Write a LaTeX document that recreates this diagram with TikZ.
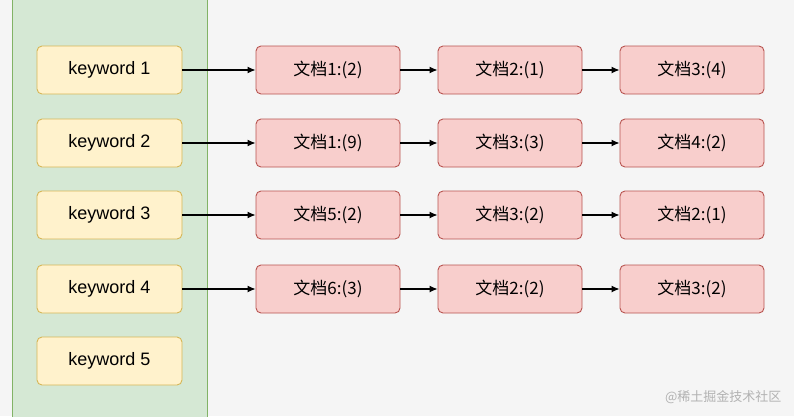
\documentclass[tikz,border=0pt]{standalone}
\usepackage{fontspec}
\setmainfont{Liberation Sans}
\newfontfamily\cjk{Noto Sans CJK SC}
\definecolor{bg}{HTML}{F5F5F5}
\definecolor{gf}{HTML}{D5E8D4}\definecolor{gs}{HTML}{82B366}
\definecolor{yf}{HTML}{FFF2CC}\definecolor{ys}{HTML}{D6B656}
\definecolor{rf}{HTML}{F8CECC}\definecolor{rs}{HTML}{B85450}
\begin{document}
\begin{tikzpicture}[x=1pt,y=-1pt,
 kw/.style={draw=ys,fill=yf,line width=0.9pt,rounded corners=5pt,minimum width=145pt,minimum height=48pt,font=\fontsize{18}{21}\selectfont},
 doc/.style={draw=rs,fill=rf,line width=0.9pt,rounded corners=5pt,minimum width=144pt,minimum height=48pt,font=\cjk\fontsize{17}{21}\selectfont},
 arr/.style={-{Latex[length=8pt,width=7pt]},line width=1.2pt}]
\usetikzlibrary{arrows.meta}
\fill[bg] (0,0) rectangle (794,416);
\useasboundingbox (0,0) rectangle (794,416);
\draw[draw=gs,fill=gf,line width=0.9pt] (12,-2) rectangle (207,418);
\foreach \i/\y in {1/70,2/143,3/215,4/289,5/361}{\node[kw] (k\i) at (109.5,\y) {keyword \i};}
\foreach \r/\y/\a/\b/\c in {1/70/1:(2)/2:(1)/3:(4),2/143/1:(9)/3:(3)/4:(2),3/215/5:(2)/3:(2)/2:(1),4/289/6:(3)/2:(2)/3:(2)}{
 \node[doc] (a\r) at (328,\y) {文档\a};
 \node[doc] (b\r) at (510,\y) {文档\b};
 \node[doc] (c\r) at (692,\y) {文档\c};
 \draw[arr] (k\r) -- (a\r);
 \draw[arr] (a\r) -- (b\r);
 \draw[arr] (b\r) -- (c\r);
}
\node[anchor=east,text=gray!60,font=\cjk\fontsize{13}{16}\selectfont] (wm) at (785,397) {@稀土掘金技术社区};
\end{tikzpicture}
\end{document}
